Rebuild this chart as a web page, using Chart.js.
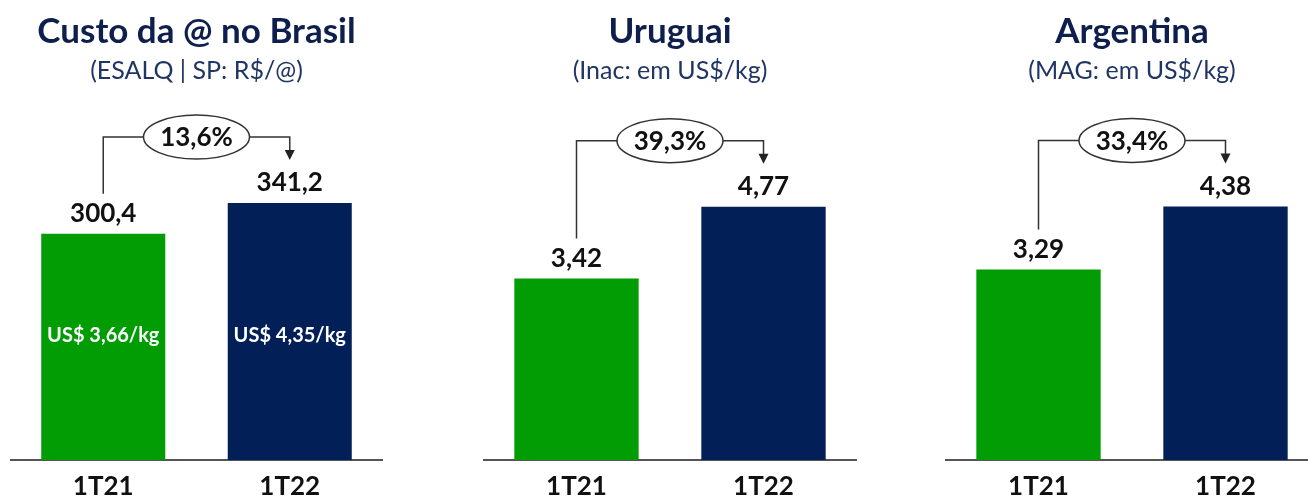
<!DOCTYPE html>
<html>
<head>
<meta charset="utf-8">
<script src="https://cdn.jsdelivr.net/npm/chart.js@4.4.0/dist/chart.umd.min.js"></script>
<style>
  html, body { margin: 0; padding: 0; background: #fff; width: 1308px; height: 497px; overflow: hidden; }
  .panel { position: absolute; top: 0; }
</style>
</head>
<body>
<canvas id="c1" class="panel" width="373" height="497" style="left:10px"></canvas>
<canvas id="c2" class="panel" width="374" height="497" style="left:483px"></canvas>
<canvas id="c3" class="panel" width="374" height="497" style="left:945px"></canvas>
<script>
// ---- data ----
const categories = ['1T21', '1T22'];
const titles = ['Custo da @ no Brasil', 'Uruguai', 'Argentina'];
const subtitles = ['(ESALQ | SP: R$/@)', '(Inac: em US$/kg)', '(MAG: em US$/kg)'];
const brasilValues = [300.4, 341.2];
const uruguaiValues = [3.42, 4.77];
const argentinaValues = [3.29, 4.38];
const valueDecimals = [1, 2, 2];
const growthLabels = ['13,6%', '39,3%', '33,4%'];
const brasilUsdLabels = ['US$ 3,66/kg', 'US$ 4,35/kg'];
const brasilUsdLabelValue = 165;
const yMaxes = [478, 6.78, 6.22];

const GREEN = '#029C05';
const NAVY = '#021F58';
const TITLE_COLOR = '#0E1F4D';
const SUB_COLOR = '#1F3563';
const FONT = 'Lato, "Open Sans", sans-serif';

function fmt(v, d) { return v.toFixed(d).replace('.', ','); }

const annotPlugin = {
  id: 'annot',
  afterDraw(chart) {
    const ctx = chart.ctx;
    const o = chart.options.plugins.annot;
    const cx = chart.width / 2;
    ctx.save();
    // titles
    ctx.textAlign = 'center';
    ctx.textBaseline = 'middle';
    ctx.fillStyle = TITLE_COLOR;
    ctx.font = 'bold 35px ' + FONT;
    ctx.fillText(o.title, cx, 32);
    ctx.fillStyle = SUB_COLOR;
    ctx.font = '25px ' + FONT;
    ctx.fillText(o.subtitle, cx, 71);

    const meta = chart.getDatasetMeta(0);
    const ys = chart.scales.y;
    const vals = chart.data.datasets[0].data;
    // value labels
    ctx.fillStyle = '#111';
    ctx.font = 'bold 26px ' + FONT;
    const labelY = [];
    meta.data.forEach((bar, i) => {
      const y = bar.y - 20;
      labelY.push(y);
      ctx.fillText(fmt(vals[i], o.decimals), bar.x, y);
    });
    // inner labels
    if (o.inner) {
      ctx.fillStyle = '#fff';
      ctx.font = 'bold 20px ' + FONT;
      meta.data.forEach((bar, i) => {
        ctx.fillText(o.inner[i], bar.x, ys.getPixelForValue(brasilUsdLabelValue));
      });
    }
    // bracket
    const x0 = meta.data[0].x, x1 = meta.data[1].x;
    const by = meta.data[1].y - 66;
    const mx = (x0 + x1) / 2;
    const rx = 53, ry = 22;
    ctx.strokeStyle = '#333';
    ctx.lineWidth = 1.5;
    ctx.beginPath();
    ctx.moveTo(x0, labelY[0] - 20);
    ctx.lineTo(x0, by);
    ctx.lineTo(mx - rx, by);
    ctx.moveTo(mx + rx, by);
    ctx.lineTo(x1, by);
    ctx.lineTo(x1, labelY[1] - 30);
    ctx.stroke();
    // arrow head
    ctx.fillStyle = '#222';
    ctx.beginPath();
    ctx.moveTo(x1 - 5, labelY[1] - 33);
    ctx.lineTo(x1 + 5, labelY[1] - 33);
    ctx.lineTo(x1, labelY[1] - 23);
    ctx.closePath();
    ctx.fill();
    // ellipse
    ctx.beginPath();
    ctx.ellipse(mx, by, rx, ry, 0, 0, Math.PI * 2);
    ctx.fillStyle = '#fff';
    ctx.fill();
    ctx.stroke();
    ctx.fillStyle = '#111';
    ctx.font = 'bold 26px ' + FONT;
    ctx.fillText(o.growth, mx, by + 1);
    ctx.restore();
  }
};

function makeChart(id, values, idx, inner) {
  return new Chart(document.getElementById(id), {
    type: 'bar',
    data: {
      labels: categories,
      datasets: [{
        data: values,
        backgroundColor: [GREEN, NAVY],
        borderWidth: 0,
        barPercentage: 0.665,
        categoryPercentage: 1.0
      }]
    },
    options: {
      responsive: false,
      animation: false,
      layout: { padding: { top: 100, left: 0, right: 0, bottom: 0 } },
      plugins: {
        legend: { display: false },
        tooltip: { enabled: false },
        title: { display: false },
        annot: {
          title: titles[idx],
          subtitle: subtitles[idx],
          decimals: valueDecimals[idx],
          growth: growthLabels[idx],
          inner: inner
        }
      },
      scales: {
        x: {
          grid: { display: false, drawTicks: false },
          border: { display: true, color: '#555', width: 2 },
          ticks: { color: '#111', font: { family: FONT, size: 26, weight: 'bold' }, padding: 11 },
          afterFit: (s) => { s.height = 37; }
        },
        y: {
          display: false,
          min: 0,
          max: yMaxes[idx]
        }
      }
    },
    plugins: [annotPlugin]
  });
}

makeChart('c1', brasilValues, 0, brasilUsdLabels);
makeChart('c2', uruguaiValues, 1, null);
makeChart('c3', argentinaValues, 2, null);
</script>
</body>
</html>
